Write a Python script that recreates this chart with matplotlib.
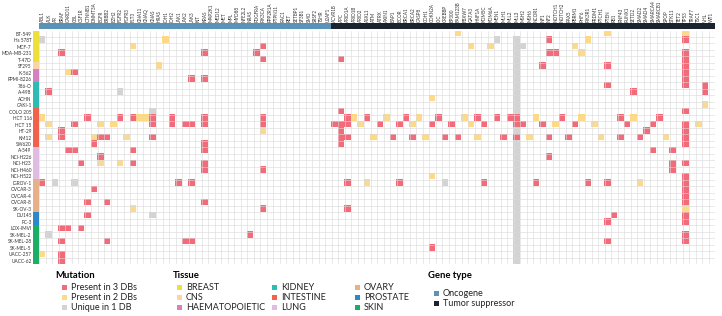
import numpy as np
import matplotlib
matplotlib.use("Agg")
import matplotlib.pyplot as plt
from matplotlib.colors import ListedColormap
from matplotlib.patches import Rectangle

plt.rcParams['font.family'] = ['Lato', 'DejaVu Sans']

# genes (columns)
oncogenes = ["ABL1", "ALK", "AR", "BRAF", "CARD11", "CBL", "CSF1R", "CTNNB1", "DNMT3A",
             "EGFR", "ERBB2", "EZH2", "FGFR2", "FGFR3", "FLT3", "GNA11", "GNAQ", "GNAS",
             "HRAS", "IDH1", "IDH2", "JAK1", "JAK2", "JAK3", "KIT", "KRAS", "MAP2K1",
             "MED12", "MET", "MPL", "MYD88", "NFE2L2", "NRAS", "PDGFRA", "PIK3CA",
             "PPP2R1A", "PTPN11", "RAC1", "RET", "SETBP1", "SF3B1", "SMO", "SRSF2",
             "TSHR", "U2AF1"]
suppressors = ["ACVR1B", "APC", "ARID1A", "ARID1B", "ARID2", "ASXL1", "ATM", "ATRX",
               "AXIN1", "BAP1", "BCOR", "BRCA1", "BRCA2", "CASP8", "CDH1", "CDKN2A",
               "CIC", "CREBBP", "EP300", "FAM123B", "FBXW7", "GATA3", "HNF1A", "KDM5C",
               "KDM6A", "MEN1", "MLH1", "MLL2", "MLL3", "MSH2", "MSH6", "NCOR1", "NF1",
               "NF2", "NOTCH1", "NOTCH2", "PAX5", "PBRM1", "PHF6", "PIK3R1", "PRDM1",
               "PTCH1", "PTEN", "RB1", "RNF43", "RUNX1", "SETD2", "SMAD2", "SMAD4",
               "SMARCA4", "SMARCB1", "SPOP", "STK11", "TET2", "TP53", "TRAF7", "TSC1",
               "VHL", "WT1"]

# cell lines (rows) and tissue of origin
cell_lines = ["BT-549", "Hs 578T", "MCF-7", "MDA-MB-231", "T-47D", "SF295", "K-562",
              "RPMI-8226", "786-O", "A-498", "ACHN", "CAKI-1", "COLO 205", "HCT 116",
              "HCT 15", "HT-29", "KM12", "SW620", "A-549", "NCI-H226", "NCI-H23",
              "NCI-H460", "NCI-H522", "IGROV-1", "OVCAR-3", "OVCAR-4", "OVCAR-8",
              "SK-OV-3", "DU145", "PC-3", "LOX-IMVI", "SK-MEL-2", "SK-MEL-28",
              "SK-MEL-5", "UACC-257", "UACC-62"]
tissue_names = ["BREAST", "CNS", "HAEMATOPOIETIC", "KIDNEY", "INTESTINE", "LUNG",
                "OVARY", "PROSTATE", "SKIN"]
tissue_counts = [5, 1, 2, 4, 6, 5, 5, 2, 6]
tissue_colors = ["#eee03a", "#fbd3a4", "#d77fc0", "#2cbcb2", "#f2614c", "#e0bce2",
                 "#e8b088", "#2c88c6", "#1aae66"]

# mutation calls: (gene column, number of databases)  3 = red, 2 = yellow, 1 = grey
mutations = {
    "BT-549": [(64, 2), (87, 2), (99, 2)],
    "Hs 578T": [(0, 1), (19, 2), (70, 1), (73, 1), (78, 3), (84, 2), (99, 3)],
    "MCF-7": [(14, 2), (34, 3), (66, 2), (69, 2), (73, 1), (74, 1), (82, 2)],
    "MDA-MB-231": [(3, 3), (25, 3), (33, 3), (73, 1), (78, 3), (79, 3), (83, 2), (99, 3)],
    "T-47D": [(34, 3), (46, 3), (73, 1), (99, 3)],
    "SF295": [(18, 2), (73, 1), (77, 3), (87, 3), (99, 3)],
    "K-562": [(4, 2), (5, 3), (73, 1), (99, 3)],
    "RPMI-8226": [(23, 3), (25, 3), (73, 1), (99, 3)],
    "786-O": [(73, 1), (87, 3), (99, 3), (102, 3)],
    "A-498": [(1, 3), (12, 1), (73, 1), (91, 3), (102, 3)],
    "ACHN": [(60, 2), (73, 1)],
    "CAKI-1": [(73, 1), (102, 2)],
    "COLO 205": [(17, 1), (46, 3), (73, 1), (99, 3)],
    "HCT 116": [(0, 2), (7, 3), (12, 3), (14, 3), (15, 2), (16, 2), (17, 3), (20, 3),
                (25, 3), (34, 3), (47, 3), (48, 2), (50, 3), (53, 2), (56, 3), (58, 2),
                (61, 3), (65, 2), (67, 3), (70, 3), (72, 3), (73, 3), (76, 2), (80, 3),
                (83, 2), (89, 3), (91, 2), (95, 3)],
    "HCT 15": [(1, 2), (5, 3), (9, 2), (11, 2), (17, 3), (20, 3), (22, 3), (23, 3),
               (25, 3), (34, 3), (45, 3), (46, 3), (47, 3), (49, 2), (52, 3), (55, 3),
               (57, 2), (60, 3), (63, 3), (66, 2), (68, 3), (73, 3), (74, 3), (77, 3),
               (79, 2), (82, 3), (85, 2), (90, 3), (94, 3), (99, 3), (101, 2)],
    "HT-29": [(3, 3), (34, 2), (46, 3), (73, 1), (93, 3), (99, 3)],
    "KM12": [(1, 2), (3, 3), (8, 2), (9, 3), (10, 3), (13, 2), (17, 3), (46, 3), (47, 3),
             (51, 2), (54, 3), (57, 3), (59, 2), (62, 3), (64, 3), (67, 2), (71, 3),
             (73, 3), (75, 2), (78, 3), (81, 3), (86, 2), (89, 3), (92, 3), (96, 2), (99, 3)],
    "SW620": [(8, 3), (25, 3), (46, 3), (73, 1), (99, 3)],
    "A-549": [(4, 3), (5, 3), (14, 3), (25, 3), (73, 1), (94, 3), (97, 3)],
    "NCI-H226": [(9, 3), (73, 1), (78, 3)],
    "NCI-H23": [(6, 3), (9, 2), (12, 2), (14, 3), (25, 3), (73, 1), (97, 3), (99, 3)],
    "NCI-H460": [(25, 3), (34, 3), (73, 1), (97, 3)],
    "NCI-H522": [(60, 2), (73, 1), (99, 3)],
    "IGROV-1": [(0, 3), (2, 1), (5, 1), (21, 3), (23, 3), (47, 3), (50, 2), (55, 3),
                (62, 1), (68, 3), (73, 1), (76, 3), (84, 3), (87, 3), (92, 2), (99, 3)],
    "OVCAR-3": [(8, 3), (73, 1), (99, 3)],
    "OVCAR-4": [(73, 1), (99, 3)],
    "OVCAR-8": [(7, 3), (10, 3), (25, 3), (73, 1), (99, 3)],
    "SK-OV-3": [(14, 2), (34, 3), (47, 3), (73, 1), (99, 2)],
    "DU145": [(7, 3), (17, 1), (73, 1), (88, 3), (99, 3)],
    "PC-3": [(73, 1), (87, 3), (99, 3)],
    "LOX-IMVI": [(3, 3), (4, 3), (6, 3), (73, 1)],
    "SK-MEL-2": [(1, 1), (32, 3), (73, 1), (99, 3)],
    "SK-MEL-28": [(3, 3), (10, 3), (22, 3), (23, 3), (73, 1), (87, 3), (99, 3)],
    "SK-MEL-5": [(60, 3), (73, 1)],
    "UACC-257": [(0, 2), (3, 3), (73, 1)],
    "UACC-62": [(3, 3), (73, 1)],
}

mut_labels = ["Present in 3 DBs", "Present in 2 DBs", "Unique in 1 DB"]
mut_colors = ["#f26b7a", "#fdd98a", "#d3d3d3"]
gtype_labels = ["Oncogene", "Tumor suppressor"]
gtype_colors = ["#5b93b8", "#1b232e"]

genes = oncogenes + suppressors
nrow, ncol = len(cell_lines), len(genes)
mat = np.zeros((nrow, ncol))
for i, cl in enumerate(cell_lines):
    for j, lev in mutations[cl]:
        mat[i, j] = lev
tissue_idx = np.repeat(np.arange(len(tissue_counts)), tissue_counts)
gtype = np.array([0] * len(oncogenes) + [1] * len(suppressors))

W, H = 722, 316
fig = plt.figure(figsize=(W / 100, H / 100), dpi=100)

def box(x0, y0, x1, y1):
    return [x0 / W, 1 - y1 / H, (x1 - x0) / W, (y1 - y0) / H]

# main heatmap
ax = fig.add_axes(box(39.3, 30.5, 715, 264))
cmap = ListedColormap(["white", mut_colors[2], mut_colors[1], mut_colors[0]])
ax.imshow(mat, cmap=cmap, vmin=-0.5, vmax=3.5, aspect="auto", interpolation="nearest")
ax.set_xticks(np.arange(-0.5, ncol, 1), minor=True)
ax.set_yticks(np.arange(-0.5, nrow, 1), minor=True)
ax.grid(which="minor", color="#d9d9d9", lw=0.4)
ax.tick_params(which="both", length=0, labelbottom=False, labelleft=False)
for s in ax.spines.values():
    s.set_visible(False)

# gene type bar with gene labels
axg = fig.add_axes(box(39.3, 23, 715, 29.5))
axg.imshow(gtype[None, :], cmap=ListedColormap(gtype_colors), aspect="auto",
           interpolation="nearest")
axg.set_xticks(np.arange(ncol))
axg.set_xticklabels(genes, rotation=90, fontsize=3.3, color="#333333")
axg.xaxis.tick_top()
axg.set_yticks([])
axg.tick_params(length=0, pad=1)
for s in axg.spines.values():
    s.set_visible(False)

# tissue bar with cell line labels
axt = fig.add_axes(box(32.5, 30.5, 38.5, 264))
axt.imshow(tissue_idx[:, None], cmap=ListedColormap(tissue_colors), aspect="auto",
           interpolation="nearest")
axt.set_yticks(np.arange(nrow))
axt.set_yticklabels(cell_lines, fontsize=3.4, color="#333333")
axt.set_xticks([])
axt.tick_params(length=0, pad=0.6)
for s in axt.spines.values():
    s.set_visible(False)

# legends (pixel layout)
axl = fig.add_axes([0, 0, 1, 1])
axl.set_xlim(0, W)
axl.set_ylim(H, 0)
axl.axis("off")

def entry(x, y, color, label):
    axl.add_patch(Rectangle((x, y - 2.5), 5, 5, color=color, lw=0))
    axl.text(x + 9, y, label, fontsize=6.5, va="center", ha="left", color="#222222")

axl.text(55, 275, "Mutation", fontsize=6.8, fontweight="bold", va="center")
for k in range(3):
    entry(62, 287 + 10 * k, mut_colors[k], mut_labels[k])

axl.text(173, 275, "Tissue", fontsize=6.8, fontweight="bold", va="center")
col_x = [177, 272, 355]
for k, (name, c) in enumerate(zip(tissue_names, tissue_colors)):
    entry(col_x[k // 3], 287 + 10 * (k % 3), c, name)

axl.text(428, 276, "Gene type", fontsize=6.8, fontweight="bold", va="center")
for k in range(2):
    entry(434, 293 + 10 * k, gtype_colors[k], gtype_labels[k])

fig.savefig("out.png", dpi=100)
